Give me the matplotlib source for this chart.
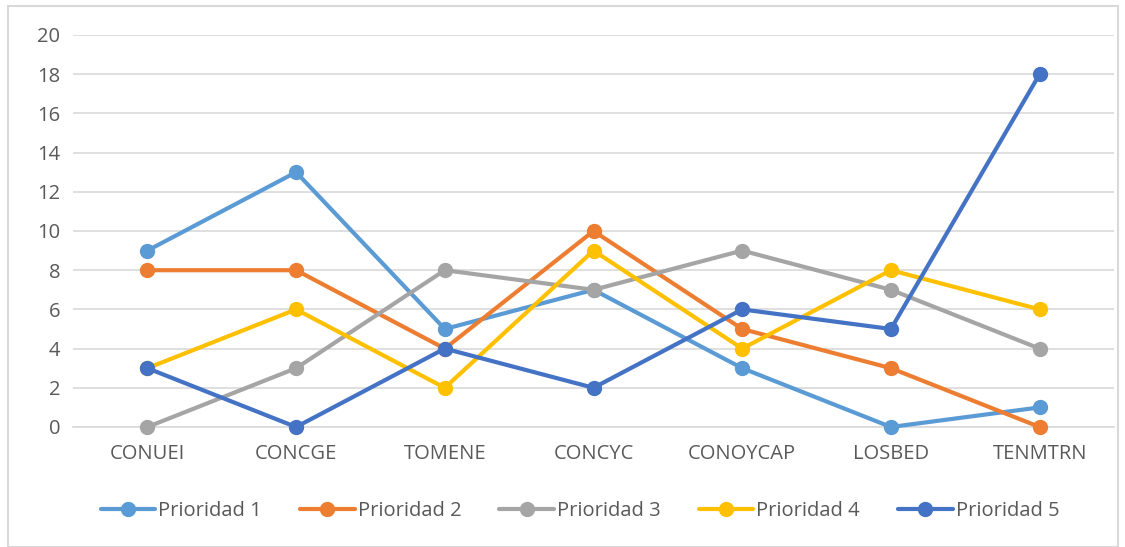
import matplotlib
matplotlib.use("Agg")
import matplotlib.pyplot as plt
from matplotlib.patches import Rectangle

categories = ["CONUEI", "CONCGE", "TOMENE", "CONCYC", "CONOYCAP", "LOSBED", "TENMTRN"]
series_names = ["Prioridad 1", "Prioridad 2", "Prioridad 3", "Prioridad 4", "Prioridad 5"]
p1 = [9, 13, 5, 7, 3, 0, 1]
p2 = [8, 8, 4, 10, 5, 3, 0]
p3 = [0, 3, 8, 7, 9, 7, 4]
p4 = [3, 6, 2, 9, 4, 8, 6]
p5 = [3, 0, 4, 2, 6, 5, 18]
values = [p1, p2, p3, p4, p5]
colors = ["#5B9BD5", "#ED7D31", "#A5A5A5", "#FFC000", "#4472C4"]
yticks = [0, 2, 4, 6, 8, 10, 12, 14, 16, 18, 20]

plt.rcParams['font.family'] = ['Open Sans', 'DejaVu Sans']

W, H = 1125, 547
fig = plt.figure(figsize=(W/100, H/100), dpi=100)
fig.patches.append(Rectangle((8/W, 0), (1118-8)/W, (H-6)/H, transform=fig.transFigure,
                             fill=False, edgecolor="#D9D9D9", linewidth=1.5))

ax = fig.add_axes([73/W, 1-427/H, (1114-73)/W, (427-35)/H])
x = list(range(len(categories)))
for name, vals, c in zip(series_names, values, colors):
    ax.plot(x, vals, color=c, linewidth=3, marker="o", markersize=10, label=name,
            solid_capstyle="round", zorder=3)

ax.set_xlim(-0.5, len(categories)-0.5)
ax.set_ylim(0, 20)
ax.set_yticks(yticks)
ax.set_xticks(x)
ax.set_xticklabels(categories)
ax.grid(axis="y", color="#D9D9D9", linewidth=1.2)
ax.set_axisbelow(True)
for s in ["top", "right", "left"]:
    ax.spines[s].set_visible(False)
ax.spines["bottom"].set_color("#D9D9D9")
ax.spines["bottom"].set_linewidth(1.2)
ax.tick_params(axis="both", length=0, labelsize=14.5, colors="#595959")
ax.tick_params(axis="y", pad=9)
ax.tick_params(axis="x", pad=12)
for line in ax.lines:
    line.set_clip_on(False)

fig.legend(loc="center", bbox_to_anchor=(580/W, 1-511/H), ncol=5, frameon=False,
           fontsize=14.5, labelcolor="#595959", handlelength=2.7, columnspacing=1.9,
           handletextpad=0.15)

fig.savefig("out.png", dpi=100)
